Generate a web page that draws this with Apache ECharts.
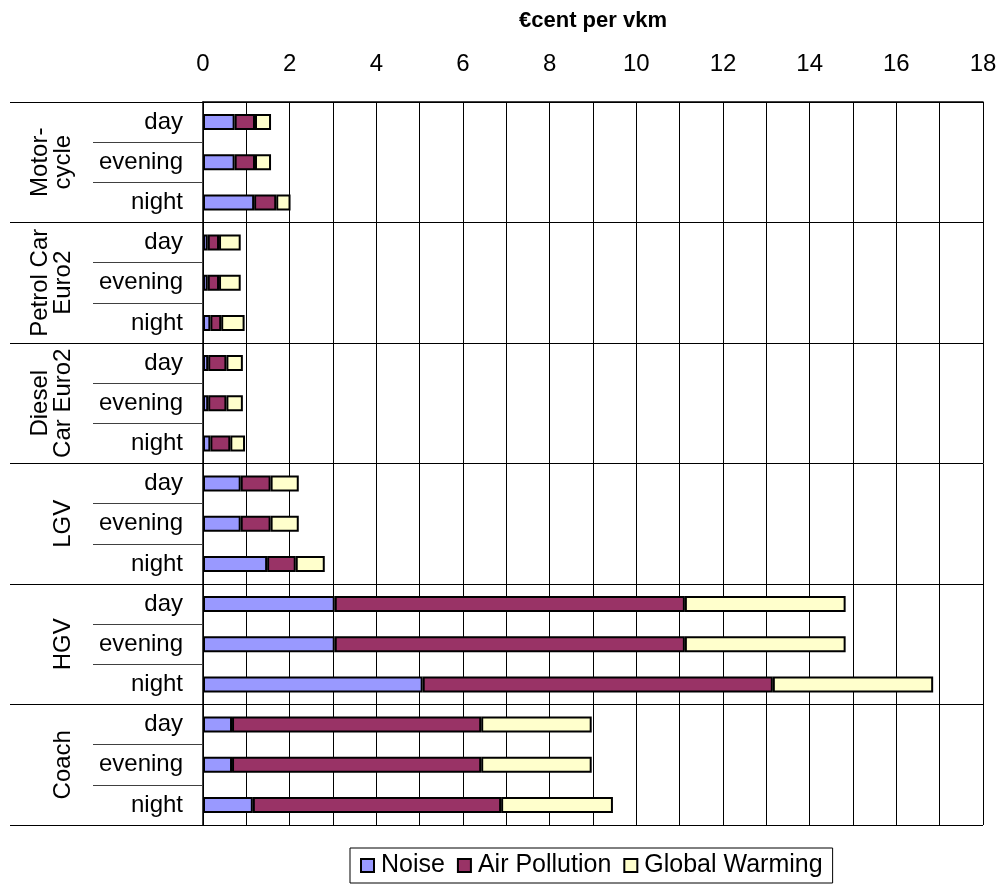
<!DOCTYPE html>
<html>
<head>
<meta charset="utf-8">
<script src="https://cdn.jsdelivr.net/npm/echarts@6/dist/echarts.min.js"></script>
<style>
  html, body { margin: 0; padding: 0; background: #ffffff; }
  #chart { width: 1000px; height: 889px; }
</style>
</head>
<body>
<div id="chart"></div>
<script>
// Vehicle groups (outer category level) and time-of-day rows (inner level)
const groups = ['Motor-\ncycle', 'Petrol Car\nEuro2', 'Diesel\nCar Euro2', 'LGV', 'HGV', 'Coach'];
const periods = ['day', 'evening', 'night'];

// External cost components, €cent per vehicle-km, one value per row (group × period)
const noise = [0.73, 0.73, 1.18, 0.11, 0.11, 0.17, 0.12, 0.12, 0.17, 0.87, 0.87, 1.48, 3.04, 3.04, 5.07, 0.67, 0.67, 1.15];
const airPollution = [0.47, 0.47, 0.51, 0.26, 0.26, 0.25, 0.42, 0.42, 0.46, 0.69, 0.69, 0.66, 8.08, 8.08, 8.08, 5.75, 5.75, 5.73];
const globalWarming = [0.37, 0.37, 0.33, 0.50, 0.50, 0.54, 0.38, 0.38, 0.34, 0.65, 0.65, 0.67, 3.71, 3.71, 3.70, 2.55, 2.55, 2.58];

// Value axis: labelled every 2, gridlines every 1
const xTicks = [0, 2, 4, 6, 8, 10, 12, 14, 16, 18];

const rowLabels = [];
groups.forEach(() => periods.forEach(p => rowLabels.push(p)));

const FONT = 'Liberation Sans, Arial, sans-serif';
const FS = 24;
const border = { borderColor: '#000000', borderWidth: 2 };

const chart = echarts.init(document.getElementById('chart'), null, { renderer: 'canvas' });

chart.setOption({
  backgroundColor: '#ffffff',
  animation: false,
  textStyle: { fontFamily: FONT, color: '#000000' },
  grid: { left: 203, right: 17, top: 102, bottom: 64, containLabel: false },
  legend: {
    top: 848,
    left: 350,
    padding: [5, 10, 5, 10],
    itemGap: 12,
    itemWidth: 13,
    itemHeight: 13,
    icon: 'rect',
    borderColor: '#000000',
    borderWidth: 1,
    textStyle: { fontFamily: FONT, fontSize: 25, color: '#000000', padding: [0, 0, 0, 2] },
    data: ['Noise', 'Air Pollution', 'Global Warming']
  },
  xAxis: {
    type: 'value',
    position: 'top',
    min: xTicks[0],
    max: xTicks[xTicks.length - 1],
    interval: 1,
    name: '€cent per vkm',
    nameLocation: 'middle',
    nameGap: 70,
    nameTextStyle: { fontFamily: FONT, fontSize: 22, fontWeight: 'bold', color: '#000000' },
    axisLine: { show: true, lineStyle: { color: '#000000', width: 1.5 } },
    axisTick: { show: true, length: 5, inside: true, lineStyle: { color: '#000000' } },
    axisLabel: {
      fontFamily: FONT, fontSize: FS, color: '#000000', margin: 26,
      formatter: v => (xTicks.indexOf(v) >= 0 ? String(v) : '')
    },
    splitLine: { show: true, lineStyle: { color: '#000000', width: 1 } }
  },
  yAxis: [
    {
      // inner level: day / evening / night
      type: 'category',
      inverse: true,
      position: 'left',
      data: rowLabels,
      axisLine: { show: false },
      axisTick: { show: true, interval: 0, length: 110, lineStyle: { color: '#404040', width: 1 } },
      axisLabel: { interval: 0, fontFamily: FONT, fontSize: FS, color: '#000000', margin: 20 },
      splitLine: { show: false }
    },
    {
      // outer level: vehicle groups
      type: 'category',
      inverse: true,
      position: 'left',
      offset: 0,
      data: groups,
      axisLine: { show: true, lineStyle: { color: '#000000', width: 1.5 } },
      axisTick: { show: true, interval: 0, length: 193, lineStyle: { color: '#000000', width: 1 } },
      axisLabel: {
        interval: 0,
        rotate: 90,
        margin: 128,
        fontFamily: FONT,
        fontSize: FS,
        lineHeight: 23,
        color: '#000000'
      },
      splitLine: { show: true, interval: 0, lineStyle: { color: '#000000', width: 1 } }
    }
  ],
  series: [
    {
      name: 'Noise', type: 'bar', stack: 'cost', yAxisIndex: 0, barWidth: 16,
      itemStyle: Object.assign({ color: '#9999FF' }, border),
      data: noise
    },
    {
      name: 'Air Pollution', type: 'bar', stack: 'cost', yAxisIndex: 0, barWidth: 16,
      itemStyle: Object.assign({ color: '#993366' }, border),
      data: airPollution
    },
    {
      name: 'Global Warming', type: 'bar', stack: 'cost', yAxisIndex: 0, barWidth: 16,
      itemStyle: Object.assign({ color: '#FFFFCC' }, border),
      data: globalWarming
    }
  ]
});
</script>
</body>
</html>
